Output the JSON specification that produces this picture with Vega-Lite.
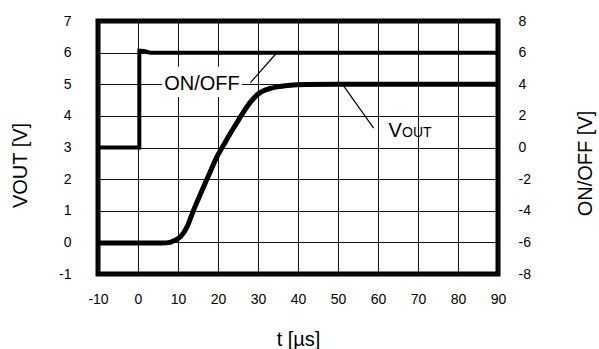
{
  "$schema": "https://vega.github.io/schema/vega-lite/v6.json",
  "width": 400,
  "height": 253,
  "autosize": {"type": "none"},
  "padding": {"left": 98, "top": 21, "right": 101, "bottom": 75},
  "config": {
    "font": "Liberation Sans",
    "view": {"stroke": "black", "strokeWidth": 5},
    "axis": {
      "labelFont": "Liberation Sans",
      "titleFont": "Liberation Sans",
      "labelFontSize": 14,
      "labelColor": "black",
      "labelOverlap": false,
      "labelFlush": false,
      "labelExpr": "'' + datum.value",
      "titleFontSize": 20,
      "titleFontWeight": "normal",
      "titleColor": "black",
      "ticks": false,
      "domain": false,
      "gridColor": "#111111",
      "gridOpacity": 1,
      "gridWidth": 1
    }
  },
  "datasets": {
    "vout": [
      {"t": -10, "v": -0.02}, {"t": 0, "v": -0.02}, {"t": 6, "v": -0.02}, {"t": 8, "v": 0.0},
      {"t": 9, "v": 0.05}, {"t": 10, "v": 0.12}, {"t": 10.6, "v": 0.18}, {"t": 11.5, "v": 0.32},
      {"t": 12.25, "v": 0.49}, {"t": 13, "v": 0.72}, {"t": 13.9, "v": 1.02}, {"t": 15, "v": 1.35},
      {"t": 16.4, "v": 1.76}, {"t": 18, "v": 2.22}, {"t": 19.75, "v": 2.71}, {"t": 21.5, "v": 3.1},
      {"t": 23.1, "v": 3.45}, {"t": 24.8, "v": 3.8}, {"t": 26.4, "v": 4.13}, {"t": 28, "v": 4.42},
      {"t": 29.75, "v": 4.66}, {"t": 31.5, "v": 4.8}, {"t": 33.1, "v": 4.87}, {"t": 35.5, "v": 4.93},
      {"t": 38.1, "v": 4.97}, {"t": 42, "v": 4.99}, {"t": 50, "v": 5.0}, {"t": 90, "v": 5.0}
    ],
    "onoff": [
      {"i": 0, "t": -10, "v": 0}, {"i": 1, "t": 0.33, "v": 0}, {"i": 2, "t": 0.33, "v": 6.12},
      {"i": 3, "t": 1.5, "v": 6.1}, {"i": 4, "t": 3, "v": 6.0}, {"i": 5, "t": 90, "v": 6.0}
    ],
    "box": [{"t1": 6.0, "t2": 25.95, "v1": 4.6, "v2": 5.55}],
    "leaders": [
      {"t1": 28.1, "v1": 5.05, "t2": 34.6, "v2": 5.98},
      {"t1": 51.4, "v1": 4.95, "t2": 58.9, "v2": 3.61}
    ],
    "labels": [
      {"label": "ON/OFF", "t": 16, "v": 5.02}
    ],
    "vlabels": [
      {"label": "V", "t": 62.6, "v": 3.34, "size": 20},
      {"label": "OUT", "t": 66.0, "v": 3.34, "size": 14}
    ]
  },
  "layer": [
    {
      "layer": [
        {
          "data": {"name": "box"},
          "mark": {"type": "rect", "color": "white"},
          "encoding": {
            "x": {
              "field": "t1", "type": "quantitative",
              "scale": {"domain": [-10, 90], "nice": false},
              "axis": {
                "values": [-10, 0, 10, 20, 30, 40, 50, 60, 70, 80, 90],
                "tickCount": 30,
                "grid": true, "labelPadding": 18,
                "title": "t [µs]", "titleBaseline": "alphabetic", "titleY": 71
              }
            },
            "x2": {"field": "t2"},
            "y": {
              "field": "v1", "type": "quantitative",
              "scale": {"domain": [-1, 7], "nice": false, "zero": false},
              "axis": {
                "orient": "left",
                "values": [-1, 0, 1, 2, 3, 4, 5, 6, 7],
                "tickCount": 30,
                "grid": true, "labelPadding": 27,
                "title": "VOUT [V]", "titleAngle": -90, "titleBaseline": "middle",
                "titleAlign": "center", "titleX": -78, "titleY": 144
              }
            },
            "y2": {"field": "v2"}
          }
        },
        {
          "data": {"name": "vout"},
          "mark": {"type": "line", "color": "black", "strokeWidth": 5, "interpolate": "monotone"},
          "encoding": {
            "x": {"field": "t", "type": "quantitative", "scale": {"domain": [-10, 90], "nice": false}},
            "y": {"field": "v", "type": "quantitative", "scale": {"domain": [-1, 7], "nice": false, "zero": false}}
          }
        },
        {
          "data": {"name": "leaders"},
          "mark": {"type": "rule", "color": "black", "strokeWidth": 1.2},
          "encoding": {
            "x": {"field": "t1", "type": "quantitative", "scale": {"domain": [-10, 90], "nice": false}},
            "x2": {"field": "t2"},
            "y": {"field": "v1", "type": "quantitative", "scale": {"domain": [-1, 7], "nice": false, "zero": false}},
            "y2": {"field": "v2"}
          }
        },
        {
          "data": {"name": "labels"},
          "mark": {"type": "text", "color": "black", "fontSize": 20, "align": "center", "baseline": "middle", "font": "Liberation Sans"},
          "encoding": {
            "x": {"field": "t", "type": "quantitative", "scale": {"domain": [-10, 90], "nice": false}},
            "y": {"field": "v", "type": "quantitative", "scale": {"domain": [-1, 7], "nice": false, "zero": false}},
            "text": {"field": "label"}
          }
        },
        {
          "data": {"name": "vlabels"},
          "mark": {"type": "text", "color": "black", "align": "left", "baseline": "alphabetic", "font": "Liberation Sans"},
          "encoding": {
            "x": {"field": "t", "type": "quantitative", "scale": {"domain": [-10, 90], "nice": false}},
            "y": {"field": "v", "type": "quantitative", "scale": {"domain": [-1, 7], "nice": false, "zero": false}},
            "text": {"field": "label"},
            "size": {"field": "size", "type": "quantitative", "scale": null, "legend": null}
          }
        }
      ]
    },
    {
      "data": {"name": "onoff"},
      "mark": {"type": "line", "color": "black", "strokeWidth": 4},
      "encoding": {
        "x": {"field": "t", "type": "quantitative", "scale": {"domain": [-10, 90], "nice": false}},
        "y": {
          "field": "v", "type": "quantitative",
          "scale": {"domain": [-8, 8], "nice": false, "zero": false},
          "axis": {
            "orient": "right",
            "values": [-8, -6, -4, -2, 0, 2, 4, 6, 8],
            "tickCount": 30,
            "grid": false, "labelPadding": 20,
            "title": "ON/OFF [V]", "titleAngle": -90, "titleBaseline": "middle",
            "titleAlign": "center", "titleX": 87, "titleY": 142
          }
        },
        "order": {"field": "i", "type": "quantitative"}
      }
    }
  ],
  "resolve": {"scale": {"y": "independent"}}
}
